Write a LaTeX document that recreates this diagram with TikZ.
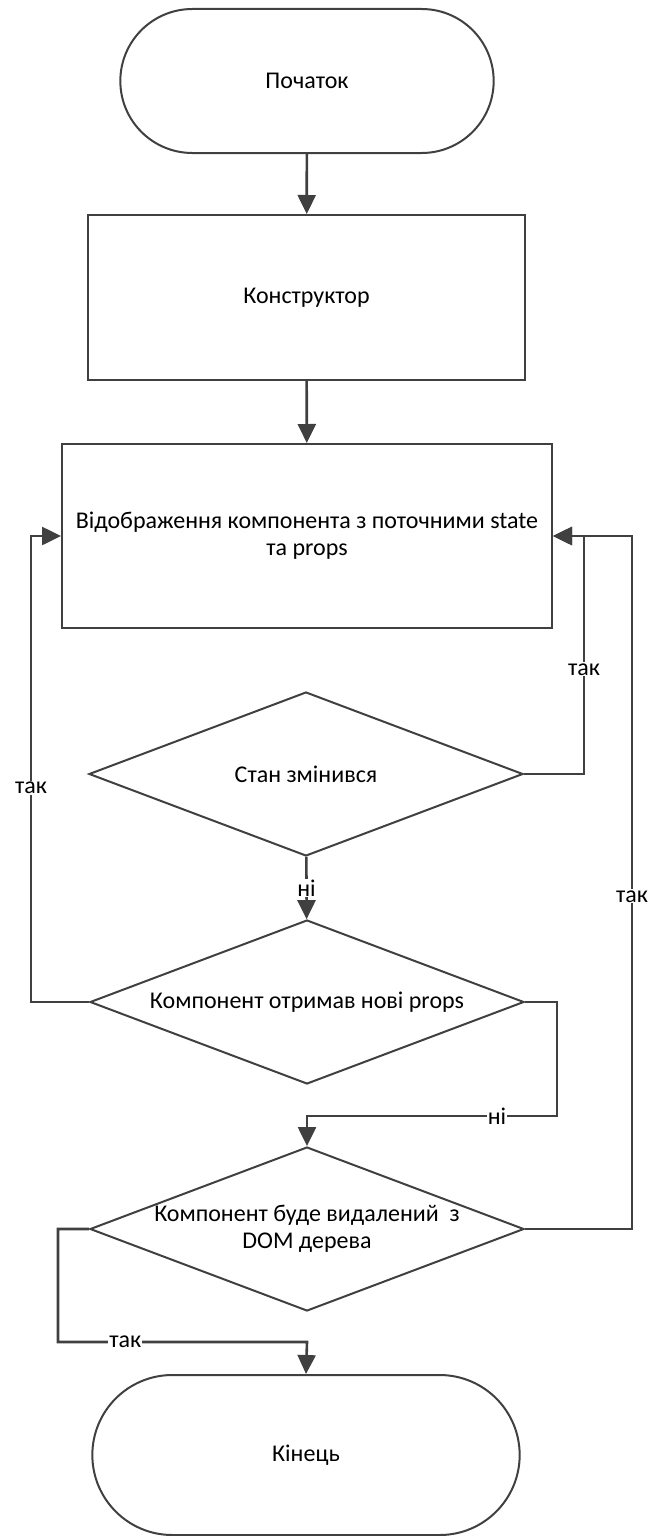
\documentclass[tikz,border=0pt]{standalone}
\usepackage{fontspec}
\setmainfont{Carlito}
\usepackage{xcolor}
\definecolor{linegray}{HTML}{404040}
\usetikzlibrary{arrows.meta, shapes.geometric, shapes.misc}

\begin{document}
\begin{tikzpicture}[x=1pt, y=-1pt,
    every node/.style={font=\fontsize{24}{27}\selectfont},
    terminal/.style={draw=linegray, line width=2pt, rounded rectangle},
    process/.style={draw=linegray, line width=2pt, align=center},
    decision/.style={draw=linegray, line width=2pt, diamond, aspect=2.65, inner sep=0pt,
        minimum width=434pt, minimum height=164pt, align=center},
    flow/.style={draw=linegray, line width=2.6pt, -{Triangle[length=19pt, width=18pt]}},
    lbl/.style={fill=white, inner sep=1pt}]
    \useasboundingbox (0,0) rectangle (653,1536);

    % Blocks, top to bottom
    \node[terminal, minimum width=380pt, minimum height=144pt] (start) at (307,81) {Початок};
    \node[process, minimum width=437pt, minimum height=165pt] (ctor) at (306.5,297.5) {Конструктор};
    \node[process, minimum width=490pt, minimum height=184pt] (render) at (307,536)
        {Відображення компонента з поточними state\\та props};
    \node[decision] (state) at (306,774) {Стан змінився};
    \node[decision] (props) at (307,1002) {Компонент отримав нові props};
    \node[decision] (unmount) at (307,1229) {Компонент буде видалений \ з\\DOM дерева};
    \node[terminal, minimum width=434pt, minimum height=160pt] (finish) at (306,1455) {Кінець};

    % Corner points of the loops
    \coordinate (joinR) at (584,536);
    \coordinate (joinL) at (31,536);
    \coordinate (outerR) at (632,536);
    \coordinate (noR) at (557,1116);
    \coordinate (noC) at (307,1116);
    \coordinate (yesL) at (58,1342);
    \coordinate (yesC) at (307,1342);

    % Main line
    \draw[flow] (start) -- (ctor);
    \draw[flow] (ctor) -- (render);
    \draw[flow] (state) -- node[lbl] {ні} (props);
    \draw[flow] (props.east) -| (noR) -- node[pos=0.24, lbl] {ні} (noC) -- (unmount.north);
    \draw[flow] (unmount.west) -| (yesL) -- node[pos=0.27, lbl] {так} (yesC) -- (finish.north);

    % Back to rendering
    \draw[flow] (state.east) -| node[pos=0.72, lbl] {так} (joinR) -- (render.east);
    \draw[flow] (props.west) -| node[pos=0.73, lbl] {так} (joinL) -- (render.west);
    \draw[flow] (unmount.east) -| node[pos=0.74, lbl] {так} (outerR) -- (render.east);
\end{tikzpicture}
\end{document}
